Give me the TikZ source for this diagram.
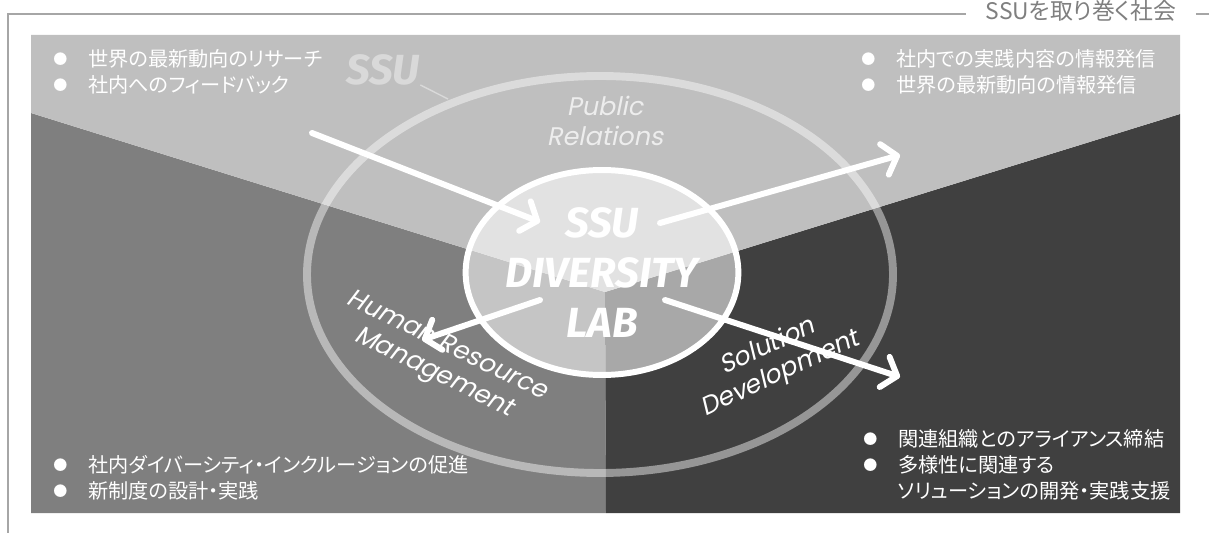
\documentclass[tikz,border=0pt]{standalone}
\usepackage{fontspec}
\setmainfont[RawFeature=+palt]{Noto Sans CJK JP}
\newfontfamily\labfont{Fira Sans}
\newfontfamily\areafont[FakeSlant=0.2]{Poppins}
\usetikzlibrary{arrows.meta,shapes.geometric,positioning}
\definecolor{lightpanel}{HTML}{BFBFBF}
\definecolor{midpanel}{HTML}{7F7F7F}
\definecolor{darkpanel}{HTML}{404040}
\definecolor{framegray}{HTML}{A6A6A6}
\definecolor{titlegray}{HTML}{7F7F7F}
\definecolor{ssumark}{HTML}{D9D9D9}
\newcommand{\blt}{\makebox[19.8pt][l]{\raisebox{1pt}{\fontsize{8}{8}\selectfont ●}}}

\begin{document}
\begin{tikzpicture}[x=0.02cm,y=-0.02cm,
	arr/.style={white, line width=3.4pt, line cap=round, -{Straight Barb[length=7.5pt,width=18pt,round]}},
	area/.style={text=white, font=\areafont\fontsize{14.5}{17}\selectfont, align=center},
	bullets/.style={text=white, font=\fontsize{11.5}{14.7}\selectfont, align=left, inner sep=0pt, anchor=north west}]
	\useasboundingbox (0,0) rectangle (1209,533);
	% three sectors
	\fill[midpanel] (31,113) -- (605,292) -- (606,513) -- (31,513) -- cycle;
	\fill[darkpanel] (1180,114) -- (605,292) -- (606,513) -- (1180,513) -- cycle;
	\fill[lightpanel] (31,35) -- (1180,35) -- (1180,114) -- (605,292) -- (31,113) -- cycle;
	% frame and title
	\node[text=titlegray, font=\fontsize{13}{13}\selectfont, inner xsep=11pt] (title) at (1081,11) {SSUを取り巻く社会};
	\coordinate (frameTL) at (8,14);
	\draw[framegray, line width=0.6pt] (8,533) -- (frameTL) -- (frameTL -| title.west);
	\draw[framegray, line width=0.6pt] (title.east |- frameTL) -- (1209,14);
	% rings
	\draw[white, draw opacity=0.45, line width=4.5pt] (600,274.5) ellipse [x radius=293, y radius=198.5];
	\node[ellipse, draw=white, line width=3.4pt, fill=white, fill opacity=0.55, text opacity=1, text=white,
		minimum width=5.32cm, minimum height=4.1cm, inner sep=0pt, align=center,
		font=\labfont\bfseries\itshape\fontsize{24}{28.5}\selectfont] (lab) at (602,272.5) {SSU\\DIVERSITY\\LAB};
	\node[text=ssumark, anchor=base, inner sep=0pt, font=\labfont\bfseries\itshape\fontsize{24}{24}\selectfont] (mark) at (383,85) {SSU};
	\coordinate (markEnd) at (448,99);
	\draw[ssumark, line width=0.8pt] (mark.base east) -- (markEnd);
	% areas
	\node[area, text=white!93!black] (pr) at (605,121) {Public\\Relations};
	\node[area, rotate=-26] (hrm) at (440,360) {Human Resource\\Management};
	\node[area, rotate=25] (sd) at (774,361) {Solution\\Development};
	% arrows
	\coordinate (inFrom) at (312,133);
	\coordinate (inTo) at (540,222);
	\coordinate (prFrom) at (660,223);
	\coordinate (prTo) at (900,155);
	\coordinate (hrFrom) at (540,300);
	\coordinate (hrTo) at (422,340);
	\coordinate (sdFrom) at (665,300);
	\coordinate (sdTo) at (900,377);
	\draw[arr] (inFrom) -- (inTo);
	\draw[arr] (prFrom) -- (prTo);
	\draw[arr] (hrFrom) -- (hrTo);
	\draw[arr] (sdFrom) -- (sdTo);
	% bullet lists
	\node[bullets] (research) at (53,49) {\blt 世界の最新動向のリサーチ\\\blt 社内へのフィードバック};
	\node[bullets] (publish) at (861,49) {\blt 社内での実践内容の情報発信\\\blt 世界の最新動向の情報発信};
	\node[bullets] (hr) at (53,455) {\blt 社内ダイバーシティ・インクルージョンの促進\\\blt 新制度の設計・実践};
	\node[bullets] (solution) at (863,429) {\blt 関連組織とのアライアンス締結\\\blt 多様性に関連する\\\makebox[19.8pt]{}ソリューションの開発・実践支援};
\end{tikzpicture}
\end{document}
